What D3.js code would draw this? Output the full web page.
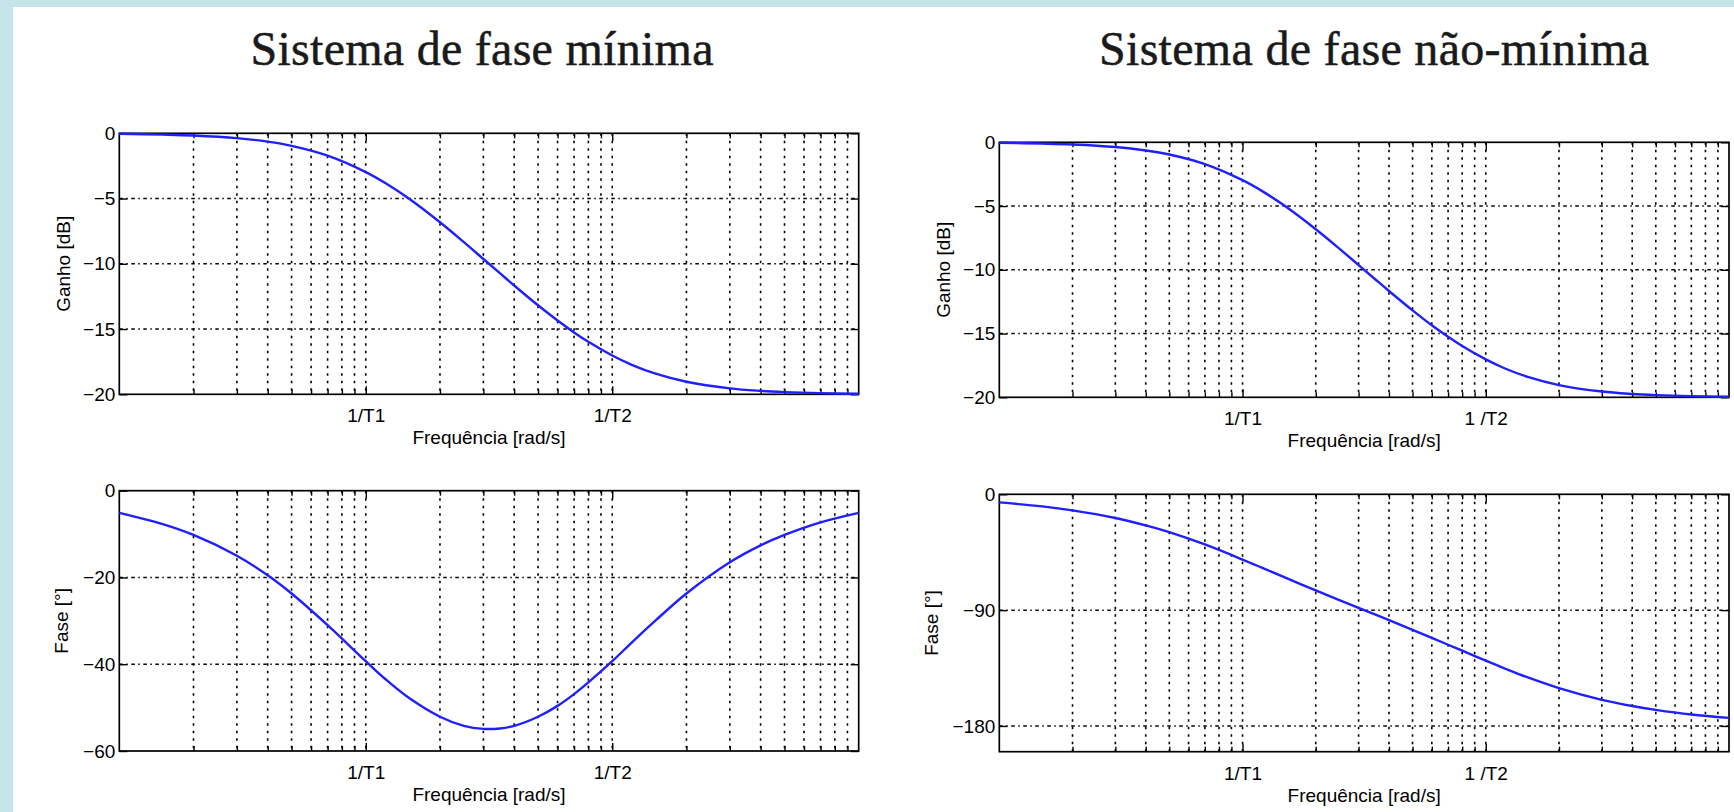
<!DOCTYPE html>
<html><head><meta charset="utf-8">
<script src="https://cdn.jsdelivr.net/npm/d3@7"></script>
<style>
html,body{margin:0;padding:0;background:#fff;}
svg{display:block;}
</style></head><body>
<svg id="chart" width="1734" height="812"></svg>
<script>
// frequency, in units of 1/T1 (T1 = 10*T2)
const freq = [0.1,0.15,0.2,0.3,0.4,0.5,0.7,1,1.2,1.5,2,2.5,3,3.5,4,5,6,7,8,10,12,15,20,30,40,50,70,100];
const gainMin = [-0.04,-0.10,-0.17,-0.37,-0.64,-0.96,-1.71,-2.97,-3.81,-5.02,-6.82,-8.34,-9.63,-10.72,-11.66,-13.18,-14.35,-15.26,-15.98,-17.03,-17.74,-18.42,-19.04,-19.55,-19.74,-19.83,-19.91,-19.96];
const phaseMin = [-5.1,-7.7,-10.2,-15.0,-19.5,-23.7,-31.0,-39.3,-43.4,-47.8,-52.1,-54.2,-54.9,-54.8,-54.2,-52.1,-49.6,-46.9,-44.2,-39.3,-35.0,-29.9,-23.7,-16.5,-12.6,-10.2,-7.3,-5.1];
const gainNonMin = [-0.04,-0.10,-0.17,-0.37,-0.64,-0.96,-1.71,-2.97,-3.81,-5.02,-6.82,-8.34,-9.63,-10.72,-11.66,-13.18,-14.35,-15.26,-15.98,-17.03,-17.74,-18.42,-19.04,-19.55,-19.74,-19.83,-19.91,-19.96];
const phaseNonMin = [-6.3,-9.4,-12.5,-18.4,-24.1,-29.4,-39.0,-50.7,-57.0,-64.8,-74.7,-82.2,-88.3,-93.3,-97.8,-105.3,-111.5,-116.9,-121.5,-129.3,-135.4,-142.5,-150.6,-159.7,-164.5,-167.5,-171.1,-173.7];

const xDomain = [0.1, 100];
const xTickValues = [1, 10];
const xTickLabelsMin = ["1/T1", "1/T2"];
const xTickLabelsNonMin = ["1/T1", "1 /T2"];
const gainTicks = [-20, -15, -10, -5, 0];
const phaseMinTicks = [-60, -40, -20, 0];
const phaseNonMinTicks = [-180, -90, 0];
const titles = ["Sistema de fase mínima", "Sistema de fase não-mínima"];
const xLabel = "Frequência [rad/s]";
const yLabelGain = "Ganho [dB]";
const yLabelPhase = "Fase [°]";

const svg = d3.select("#chart");
svg.append("rect").attr("x",0).attr("y",0).attr("width",1734).attr("height",812).attr("fill","#fff");
svg.append("rect").attr("x",0).attr("y",0).attr("width",1734).attr("height",7).attr("fill","#c5e4e8");
svg.append("rect").attr("x",0).attr("y",0).attr("width",13).attr("height",812).attr("fill","#c5e4e8");

const sans = "'Liberation Sans', Arial, Helvetica, sans-serif";
const FS = 19;

// titles
const titleSpec = [
  {text: titles[0], cx: 482, len: 463},
  {text: titles[1], cx: 1374, len: 550}
];
titleSpec.forEach(t => {
  svg.append("text").attr("x", t.cx).attr("y", 65)
    .attr("text-anchor","middle")
    .attr("font-family","'Liberation Serif', 'Times New Roman', serif")
    .attr("font-size", 48).attr("fill","#1a1a1a")
    .attr("stroke","#1a1a1a").attr("stroke-width",0.5)
    .attr("textLength", t.len).attr("lengthAdjust","spacing")
    .text(t.text);
});

const panels = [
  {l:119.3, r:858.7, t:133.3, b:394.3, yDomain:[-20,0], yTicks:gainTicks, values:gainMin, xLabels:xTickLabelsMin, yLabel:yLabelGain, yOff:56},
  {l:119.3, r:858.7, t:490.7, b:751.0, yDomain:[-60,0], yTicks:phaseMinTicks, values:phaseMin, xLabels:xTickLabelsMin, yLabel:yLabelPhase, yOff:57.5},
  {l:999.3, r:1729, t:142.3, b:397.3, yDomain:[-20,0], yTicks:gainTicks, values:gainNonMin, xLabels:xTickLabelsNonMin, yLabel:yLabelGain, yOff:56},
  {l:999.3, r:1729, t:494.3, b:751.7, yDomain:[-200,0], yTicks:phaseNonMinTicks, values:phaseNonMin, xLabels:xTickLabelsNonMin, yLabel:yLabelPhase, yOff:68}
];

panels.forEach(p => {
  const x = d3.scaleLog().domain(xDomain).range([p.l, p.r]);
  const y = d3.scaleLinear().domain(p.yDomain).range([p.b, p.t]);
  const g = svg.append("g");

  const minor = x.ticks().filter(v => v > xDomain[0]*1.0001 && v < xDomain[1]*0.9999);
  const minorOnly = minor.filter(v => !xTickValues.some(m => Math.abs(m - v) < 1e-9));
  const hGrid = p.yTicks.filter(v => v > p.yDomain[0] && v < p.yDomain[1]);

  // grid
  g.append("g").selectAll("line").data(minor).join("line")
    .attr("x1", d => x(d)).attr("x2", d => x(d))
    .attr("y1", p.t).attr("y2", p.b)
    .attr("stroke","#000").attr("stroke-width",1.6)
    .attr("stroke-dasharray","2.5,5");
  g.append("g").selectAll("line").data(hGrid).join("line")
    .attr("x1", p.l).attr("x2", p.r)
    .attr("y1", d => y(d)).attr("y2", d => y(d))
    .attr("stroke","#000").attr("stroke-width",1.5)
    .attr("stroke-dasharray","3.5,3.5,1.5,3.5");

  const styleAxis = sel => {
    sel.select(".domain").remove();
    sel.selectAll("line").attr("stroke-width",1.4);
    sel.attr("font-family", sans).attr("font-size", FS);
  };

  // minor x ticks
  g.append("g").attr("transform",`translate(0,${p.b})`)
    .call(d3.axisBottom(x).tickValues(minorOnly).tickSize(-5).tickFormat(""))
    .call(styleAxis);
  g.append("g").attr("transform",`translate(0,${p.t})`)
    .call(d3.axisTop(x).tickValues(minorOnly).tickSize(-5).tickFormat(""))
    .call(styleAxis);
  // major x ticks with labels
  g.append("g").attr("transform",`translate(0,${p.b})`)
    .call(d3.axisBottom(x).tickValues(xTickValues).tickSize(-8)
      .tickFormat((d,i) => p.xLabels[i]))
    .call(styleAxis)
    .call(s => s.selectAll("text").attr("y", 28).attr("dy", null).attr("fill","#000"));
  g.append("g").attr("transform",`translate(0,${p.t})`)
    .call(d3.axisTop(x).tickValues(xTickValues).tickSize(-8).tickFormat(""))
    .call(styleAxis);
  // y axes
  g.append("g").attr("transform",`translate(${p.l},0)`)
    .call(d3.axisLeft(y).tickValues(p.yTicks).tickSize(-8).tickPadding(4).tickFormat(d3.format("d")))
    .call(styleAxis)
    .call(s => s.selectAll("text").attr("fill","#000"));
  g.append("g").attr("transform",`translate(${p.r},0)`)
    .call(d3.axisRight(y).tickValues(p.yTicks).tickSize(-8).tickFormat(""))
    .call(styleAxis);

  // box
  g.append("rect").attr("x", p.l).attr("y", p.t)
    .attr("width", p.r - p.l).attr("height", p.b - p.t)
    .attr("fill","none").attr("stroke","#000").attr("stroke-width",1.7);

  // curve
  const line = d3.line().x((d,i) => x(freq[i])).y(d => y(d)).curve(d3.curveCatmullRom.alpha(0.5));
  g.append("path").datum(p.values).attr("d", line)
    .attr("fill","none").attr("stroke","#1f1fff").attr("stroke-width",2.4)
    .attr("stroke-linejoin","round");

  // labels
  g.append("text").attr("x", (p.l + p.r)/2).attr("y", p.b + 50)
    .attr("text-anchor","middle").attr("font-family", sans).attr("font-size", FS)
    .attr("fill","#000").text(xLabel);
  g.append("text")
    .attr("transform", `translate(${p.l - p.yOff},${(p.t + p.b)/2}) rotate(-90)`)
    .attr("text-anchor","middle").attr("dominant-baseline","central")
    .attr("font-family", sans).attr("font-size", FS)
    .attr("fill","#000").text(p.yLabel);
});
</script>
</body></html>
